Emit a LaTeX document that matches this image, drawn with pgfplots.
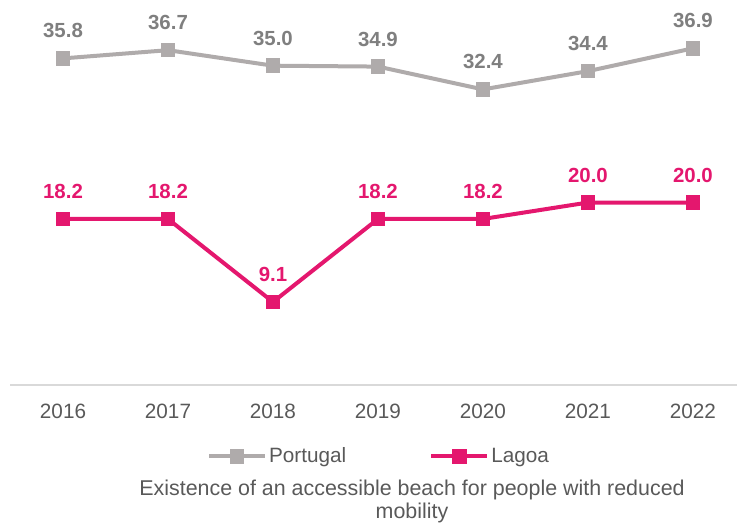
\documentclass[border=0pt]{standalone}
\usepackage{pgfplots}
\pgfplotsset{compat=1.18}
\usepackage{fontspec}
\setmainfont{Liberation Sans}
\definecolor{ptgray}{RGB}{175,171,171}
\definecolor{ptlab}{RGB}{127,127,127}
\definecolor{lgpink}{RGB}{228,23,110}
\definecolor{txtgray}{RGB}{89,89,89}
\definecolor{axgray}{RGB}{217,217,217}
\pgfplotstableread{
x y
0 35.8
1 36.7
2 35.0
3 34.9
4 32.4
5 34.4
6 36.9
}\portugal
\pgfplotstableread{
x y
0 18.2
1 18.2
2 9.1
3 18.2
4 18.2
5 20.0
6 20.0
}\lagoa
\begin{document}
\begin{tikzpicture}
\useasboundingbox (-10bp,-140bp) rectangle (727bp,385bp);
\begin{axis}[
  scale only axis,
  width=727bp, height=385bp,
  xmin=-0.505, xmax=6.42,
  ymin=0, ymax=42.2,
  axis y line=none,
  axis x line*=bottom,
  x axis line style={draw=axgray, line width=1.5bp, -},
  xtick=data,
  xticklabels={2016,2017,2018,2019,2020,2021,2022},
  major tick length=0,
  xticklabel style={font=\fontsize{20.8}{24}\selectfont, text=txtgray, yshift=-16bp},
  /pgf/number format/assume math mode=true,
  clip=false,
  nodes near coords,
  nodes near coords style={font=\fontsize{20.5}{24}\selectfont\bfseries, anchor=south, yshift=17bp,
    /pgf/number format/fixed, /pgf/number format/fixed zerofill, /pgf/number format/precision=1},
  legend columns=2,
  legend style={draw=none, fill=none, at={(0.5076,-0.185)}, anchor=center,
    font=\fontsize{20.8}{24}\selectfont, text=txtgray,
    /tikz/every even column/.append style={column sep=81bp},
    inner sep=0pt},
  legend cell align=left,
  legend image code/.code={\draw[mark repeat=2,mark phase=2,#1] plot coordinates {(0bp,0bp) (28bp,0bp) (56bp,0bp)};},
]
\addplot[color=ptgray, line width=4bp, mark=square*, mark size=6.8bp, mark options={line width=0pt},
  every node near coord/.append style={text=ptlab}] table[x=x,y=y] {\portugal};
\addlegendentry{Portugal}
\addplot[color=lgpink, line width=4bp, mark=square*, mark size=6.8bp, mark options={line width=0pt},
  every node near coord/.append style={text=lgpink}] table[x=x,y=y] {\lagoa};
\addlegendentry{Lagoa}
\node[font=\fontsize{21.5}{23}\selectfont, text=txtgray, align=center, anchor=center]
  at (axis description cs:0.553,-0.303) {Existence of an accessible beach for people with reduced\\mobility};
\end{axis}
\end{tikzpicture}
\end{document}
